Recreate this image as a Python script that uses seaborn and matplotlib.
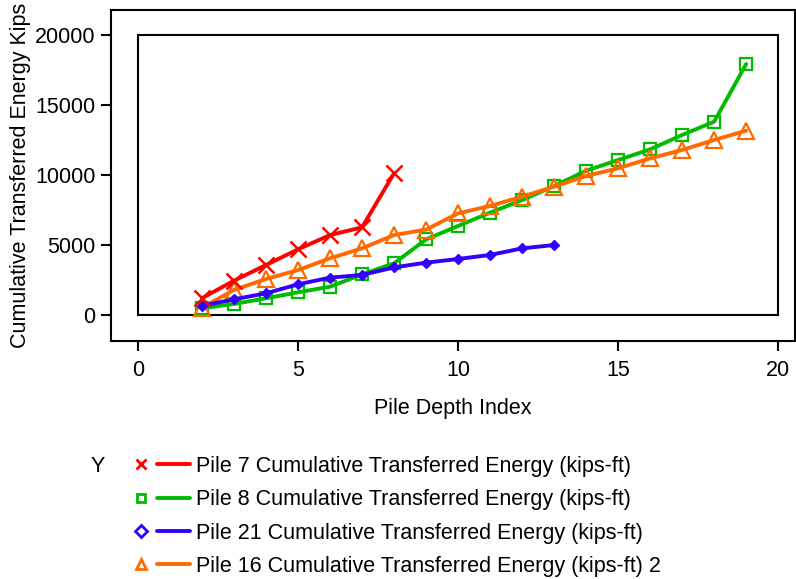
import numpy as np
import pandas as pd
import matplotlib
matplotlib.use("Agg")
import matplotlib.pyplot as plt
import seaborn as sns
from matplotlib.lines import Line2D
from matplotlib.patches import Rectangle
from matplotlib.legend_handler import HandlerTuple

# ---- data ----
pile7_x = [2, 3, 4, 5, 6, 7, 8]
pile7_y = [1200, 2450, 3570, 4690, 5710, 6260, 10120]

pile8_x = list(range(2, 20))
pile8_y = [480, 790, 1190, 1620, 2020, 2900, 3690, 5400, 6360, 7310, 8210,
           9210, 10310, 11070, 11830, 12860, 13810, 17930]

pile21_x = list(range(2, 14))
pile21_y = [650, 1120, 1550, 2190, 2670, 2860, 3400, 3740, 4000, 4290, 4760, 5000]

pile16_x = list(range(2, 20))
pile16_y = [520, 1790, 2570, 3210, 4050, 4760, 5710, 6100, 7260, 7790, 8450,
            9170, 9930, 10480, 11190, 11790, 12500, 13170]

labels = ["Pile 7 Cumulative Transferred Energy (kips-ft)",
          "Pile 8 Cumulative Transferred Energy (kips-ft)",
          "Pile 21 Cumulative Transferred Energy (kips-ft)",
          "Pile 16 Cumulative Transferred Energy (kips-ft) 2"]
x_ticks = [0, 5, 10, 15, 20]
y_ticks = [0, 5000, 10000, 15000, 20000]

sns.set_theme(style="white")
plt.rcParams['font.family'] = ['Liberation Sans', 'DejaVu Sans']
plt.rcParams.update({'text.color': 'black', 'axes.labelcolor': 'black',
                     'xtick.color': 'black', 'ytick.color': 'black'})
FS = 15.5

fig = plt.figure(figsize=(7.96, 5.79), dpi=100)
ax = fig.add_axes([111/796, 1-341/579, 0.999-111/796, (341-10)/579])

red = "#ff0000"
green = "#00bb00"
blue = "#3300ff"
orange = "#ff6a00"

series = [
    (pile8_x, pile8_y, green, dict(marker='s', markersize=9, markerfacecolor='none',
                                   markeredgecolor=green, markeredgewidth=1.6)),
    (pile16_x, pile16_y, orange, dict(marker='^', markersize=11, markerfacecolor='none',
                                      markeredgecolor=orange, markeredgewidth=1.6)),
    (pile21_x, pile21_y, blue, dict(marker='D', markersize=5, markerfacecolor=blue,
                                    markeredgecolor=blue, markeredgewidth=1)),
    (pile7_x, pile7_y, red, dict(marker='x', markersize=11, markeredgecolor=red,
                                 markeredgewidth=1.8)),
]
for xs, ys, c, kw in series:
    df = pd.DataFrame({"x": xs, "y": ys})
    sns.lineplot(data=df, x="x", y="y", ax=ax, color=c, linewidth=2.8, **kw)

ax.add_patch(Rectangle((0, 0), 20, 20000, fill=False, edgecolor='black', linewidth=1.5, zorder=1))

ax.set_xlim(-0.84, 20.53)
ax.set_ylim(-1857, 21786)
ax.set_xticks(x_ticks)
ax.set_yticks(y_ticks)
ax.set_xlabel("Pile Depth Index", fontsize=FS, labelpad=12)
ax.set_ylabel("Cumulative Transferred Energy Kips", fontsize=FS, labelpad=3)
ax.tick_params(axis='both', which='both', direction='out', length=7, width=1.5,
               labelsize=FS, color='black', labelcolor='black', left=True, bottom=True, pad=4)
ax.tick_params(axis='x', pad=7)
for s in ax.spines.values():
    s.set_color('black')
    s.set_linewidth(1.5)
ax.grid(False)

# legend
handles = []
for c, m, ms, fc in [(red, 'x', 7, red), (green, 's', 6, 'none'), (blue, 'D', 6, 'none'), (orange, '^', 7, 'none')]:
    mk = Line2D([], [], linestyle='none', marker=m, markersize=ms, markerfacecolor=fc,
                markeredgecolor=c, markeredgewidth=2)
    ln = Line2D([], [], color=c, linewidth=2.8)
    handles.append((mk, ln))
leg = fig.legend(handles, labels, handler_map={tuple: HandlerTuple(ndivide=None, pad=0)},
                 loc='upper left', bbox_to_anchor=(125/796, 1-456/579), frameon=False,
                 fontsize=FS, handlelength=3.0, handletextpad=0.3, labelspacing=0.57,
                 borderpad=0, borderaxespad=0)
for t in leg.get_texts():
    t.set_color('black')
fig.text(98/796, 1-466/579, "Y", fontsize=FS, ha='center', va='center', color='black')

fig.savefig("out.png", dpi=100)
